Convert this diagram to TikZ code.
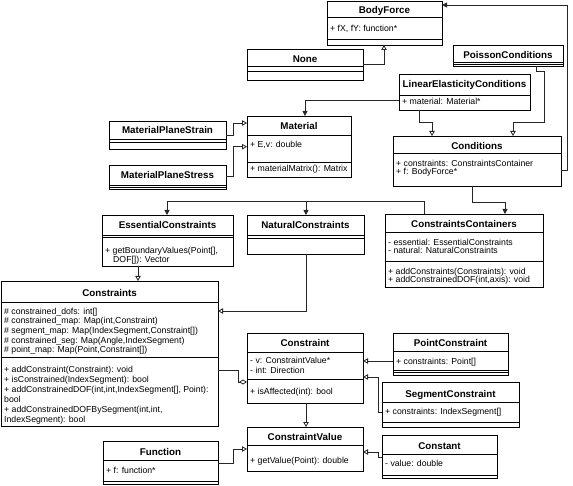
\documentclass[tikz,border=0pt]{standalone}
\usepackage{fontspec}
\setmainfont{Liberation Sans}
\usetikzlibrary{arrows.meta}
\tikzset{
 clsbox/.style={draw=black, line width=0.8pt, fill=white, inner sep=0pt, outer sep=0pt},
 clsline/.style={draw=black, line width=0.8pt},
 ttl/.style={font=\fontsize{9.8}{11}\selectfont\bfseries, inner sep=0pt},
 attr/.style={font=\fontsize{8.7}{10}\selectfont, inner sep=0pt},
 conn/.style={draw=black!85, line width=0.8pt},
 gen/.style={conn, -{Triangle[open,length=5pt,width=5.5pt]}},
 assoc/.style={conn, -{Triangle[length=5pt,width=5pt]}},
 agg/.style={conn, -{Diamond[open,length=8pt,width=5pt]}},
}
\newcommand\umlclass[5]{\pgfmathsetmacro\clsw{#4-#2}\pgfmathsetmacro\clsh{#5-#3}%
 \node[clsbox, minimum width=\clsw pt, minimum height=\clsh pt, anchor=north west] (#1) at (#2,#3) {};}
\newcommand\umldiv[2]{\draw[clsline] (#1.west |- 0,#2) -- (#1.east |- 0,#2);}
\newcommand\umltitle[3]{\pgfmathsetmacro\tyy{#2+3.5}\node[ttl, anchor=base] (#1-title) at (#1.north |- 0,\tyy) {#3};}
\newcommand\umlattr[5]{\pgfmathsetmacro\tyy{#3+3.1}\path (#1.west |- 0,\tyy) ++(#4,0) node[attr, anchor=base west] (#1-#2) {#5};}
\begin{document}
\begin{tikzpicture}[x=1pt,y=-1pt]
\useasboundingbox (0,0) rectangle (573,486);
% BodyForce
\umlclass{bodyforce}{327}{1}{442}{45}
\umldiv{bodyforce}{17.5}\umldiv{bodyforce}{39.3}
\umltitle{bodyforce}{10.3}{BodyForce}
\umlattr{bodyforce}{a1}{28.3}{3}{+ fX, fY: function*}
% None
\umlclass{none}{247}{49.3}{363}{80}
\umldiv{none}{66}\umldiv{none}{71}
\umltitle{none}{59.5}{None}
% PoissonConditions
\umlclass{poisson}{453}{45}{563}{66.5}
\umldiv{poisson}{62.5}\umldiv{poisson}{64.5}
\umltitle{poisson}{55.2}{PoissonConditions}
% LinearElasticityConditions
\umlclass{lec}{399}{74}{530}{110}
\umldiv{lec}{95}
\umltitle{lec}{84.3}{LinearElasticityConditions}
\umlattr{lec}{a1}{101.7}{3}{+ material: Material*}
% Conditions
\umlclass{conditions}{393}{136}{561}{186}
\umldiv{conditions}{153.5}
\umltitle{conditions}{145.8}{Conditions}
\umlattr{conditions}{a1}{163.3}{3}{+ constraints: ConstraintsContainer}
\umlattr{conditions}{a2}{171.5}{3}{+ f: BodyForce*}
% Material
\umlclass{material}{247}{116}{351}{177}
\umldiv{material}{135}\umldiv{material}{162}
\umltitle{material}{126}{Material}
\umlattr{material}{a1}{144.3}{3}{+ E,v: double}
\umlattr{material}{m1}{168.3}{3}{+ materialMatrix(): Matrix}
% MaterialPlaneStrain
\umlclass{mpstrain}{109}{121}{226}{149.3}
\umldiv{mpstrain}{139.3}\umldiv{mpstrain}{142.7}
\umltitle{mpstrain}{130.5}{MaterialPlaneStrain}
% MaterialPlaneStress
\umlclass{mpstress}{109}{165}{226}{189.3}
\umldiv{mpstress}{185.7}\umldiv{mpstress}{187.5}
\umltitle{mpstress}{175}{MaterialPlaneStress}
% EssentialConstraints
\umlclass{essential}{102}{215}{233}{266}
\umldiv{essential}{235}\umldiv{essential}{237.5}
\umltitle{essential}{225}{EssentialConstraints}
\umlattr{essential}{m1}{250.7}{3}{+ getBoundaryValues(Point[],}
\umlattr{essential}{m2}{259}{11}{DOF[]): Vector}
% NaturalConstraints
\umlclass{natural}{247}{215}{364}{254}
\umldiv{natural}{235.7}\umldiv{natural}{238}
\umltitle{natural}{225}{NaturalConstraints}
% ConstraintsContainers
\umlclass{cc}{385}{214}{543}{287}
\umldiv{cc}{232}\umldiv{cc}{261.3}
\umltitle{cc}{224.5}{ConstraintsContainers}
\umlattr{cc}{a1}{242.7}{3}{- essential: EssentialConstraints}
\umlattr{cc}{a2}{250.5}{3}{- natural: NaturalConstraints}
\umlattr{cc}{m1}{271.7}{3}{+ addConstraints(Constraints): void}
\umlattr{cc}{m2}{279.5}{3}{+ addConstrainedDOF(int,axis): void}
% Constraints
\umlclass{constraints}{1}{281}{218}{426}
\umldiv{constraints}{302.7}\umldiv{constraints}{357.3}
\umltitle{constraints}{292.7}{Constraints}
\umlattr{constraints}{a1}{311}{3}{\# constrained\_dofs: int[]}
\umlattr{constraints}{a2}{320.5}{3}{\# constrained\_map: Map(int,Constraint)}
\umlattr{constraints}{a3}{330.2}{3}{\# segment\_map: Map(IndexSegment,Constraint[])}
\umlattr{constraints}{a4}{340}{3}{\# constrained\_seg: Map(Angle,IndexSegment)}
\umlattr{constraints}{a5}{349.8}{3}{\# point\_map: Map(Point,Constraint[])}
\umlattr{constraints}{m1}{369}{3}{+ addConstraint(Constraint): void}
\umlattr{constraints}{m2}{379}{3}{+ isConstrained(IndexSegment): bool}
\umlattr{constraints}{m3}{389}{3}{+ addConstrainedDOF(int,int,IndexSegment[], Point):}
\umlattr{constraints}{m4}{399}{3}{bool}
\umlattr{constraints}{m5}{409}{3}{+ addConstrainedDOFBySegment(int,int,}
\umlattr{constraints}{m6}{419}{3}{IndexSegment): bool}
% Constraint
\umlclass{constraint}{247}{333}{363}{403}
\umldiv{constraint}{352.7}\umldiv{constraint}{379.3}
\umltitle{constraint}{343.3}{Constraint}
\umlattr{constraint}{a1}{360.7}{3}{- v: ConstraintValue*}
\umlattr{constraint}{a2}{370.5}{3}{- int: Direction}
\umlattr{constraint}{m1}{391}{3}{+ isAffected(int): bool}
% PointConstraint
\umlclass{pointc}{393}{333}{508}{375.7}
\umldiv{pointc}{351.7}\umldiv{pointc}{370.7}\umldiv{pointc}{372.5}
\umltitle{pointc}{343.3}{PointConstraint}
\umlattr{pointc}{a1}{361}{3}{+ constraints: Point[]}
% SegmentConstraint
\umlclass{segc}{382}{382.7}{519}{427.8}
\umldiv{segc}{402.3}\umldiv{segc}{422.2}
\umltitle{segc}{393.5}{SegmentConstraint}
\umlattr{segc}{a1}{411.7}{3}{+ constraints: IndexSegment[]}
% ConstraintValue
\umlclass{cvalue}{247}{427}{363}{471}
\umldiv{cvalue}{445}
\umltitle{cvalue}{436.7}{ConstraintValue}
\umlattr{cvalue}{m1}{460.7}{3}{+ getValue(Point): double}
% Constant
\umlclass{constant}{382}{435.7}{497}{478.3}
\umldiv{constant}{454.3}\umldiv{constant}{475}
\umltitle{constant}{445.7}{Constant}
\umlattr{constant}{a1}{463.3}{3}{- value: double}
% Function
\umlclass{function}{103}{441.7}{218}{484.3}
\umldiv{function}{460.7}\umldiv{function}{481}
\umltitle{function}{452.3}{Function}
\umlattr{function}{a1}{470.7}{3}{+ f: function*}
% connectors
\draw[gen] (none.east |- 0,64) -| (384,0 |- bodyforce.south);
\draw[assoc] (conditions.east |- 0,170) -| (567,5) -- (bodyforce.east |- 0,5);
\draw[assoc] (lec.west |- 0,100) -| (305,0 |- material.north);
\draw[gen] (419,0 |- lec.south) |- (432,122) -- (432,0 |- conditions.north);
\draw[gen] (536,0 |- poisson.south) |- (544,71) |- (513,122) -- (513,0 |- conditions.north);
\draw[gen] (mpstrain.east |- 0,135) -| (233,123) -- (material.west |- 0,123);
\draw[gen] (mpstress.east |- 0,176.7) -| (233,146.7) -- (material.west |- 0,146.7);
\draw[assoc] (472,0 |- conditions.south) |- (505,202) -- (505,0 |- cc.north);
\coordinate (branch) at (306,201);
\draw[assoc] (424,0 |- cc.north) |- (167,201) -- (167,0 |- essential.north);
\draw[assoc] (branch) -- (306,0 |- natural.north);
\draw[gen] (138,0 |- essential.south) -- (138,0 |- constraints.north);
\draw[gen] (306,0 |- natural.south) |- (constraints.east |- 0,311);
\draw[agg] (constraints.east |- 0,370) -| (238,382) -- (constraint.west |- 0,382);
\draw[gen] (306,0 |- constraint.south) -- (306,0 |- cvalue.north);
\draw[gen] (pointc.west |- 0,361) -- (constraint.east |- 0,361);
\draw[gen] (segc.west |- 0,412) -| (378,377) -- (constraint.east |- 0,377);
\draw[gen] (function.east |- 0,463) -| (233,449) -- (cvalue.west |- 0,449);
\draw[gen] (constant.west |- 0,457) -| (378,452) -- (cvalue.east |- 0,452);
\end{tikzpicture}
\end{document}
